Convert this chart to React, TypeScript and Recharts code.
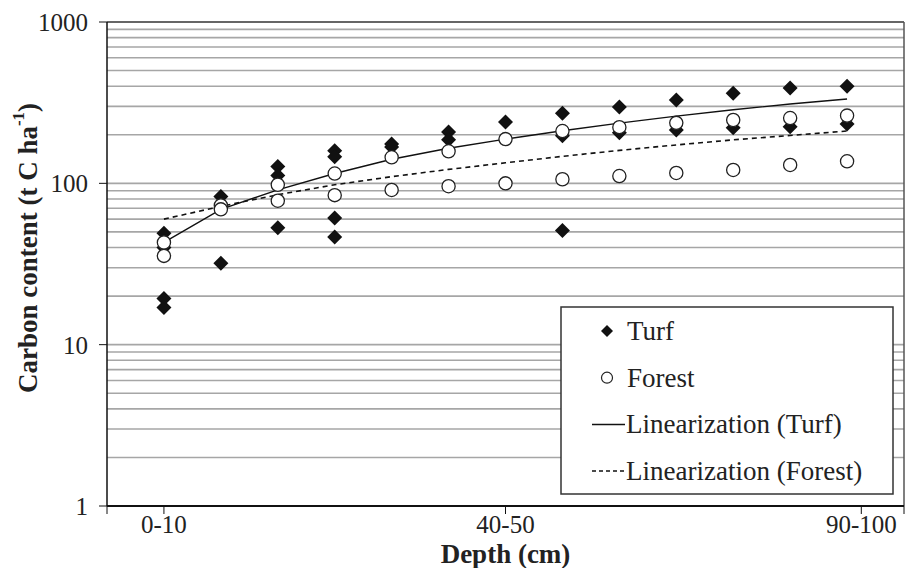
import React from 'react'
import { ComposedChart, Scatter, Line, XAxis, YAxis, ReferenceLine } from 'recharts'

const FONT = "'Times New Roman', Times, 'Liberation Serif', 'DejaVu Serif', serif"

// 13 depth slices, drawn at positions 1..13 on a 0..14 axis
const positions = [1, 2, 3, 4, 5, 6, 7, 8, 9, 10, 11, 12, 13]
const xTicks = [0, 1, 7, 13.25, 14]
const xTickLabels: Record<number, string> = { 1: '0-10', 7: '40-50', 13.25: '90-100' }
const yTicks = [1, 10, 100, 1000]
const gridValues = [
  2, 3, 4, 5, 6, 7, 8, 9, 10,
  20, 30, 40, 50, 60, 70, 80, 90, 100,
  200, 300, 400, 500, 600, 700, 800, 900,
]

// measured carbon content per slice (t C / ha)
const turfValues = [
  [49, 40, 19.3, 17],
  [83, 32],
  [127, 112, 53],
  [159, 146, 61, 46.5],
  [175, 168],
  [208, 186],
  [240],
  [272, 197, 51],
  [297, 206],
  [328, 214],
  [362, 221],
  [390, 224],
  [400, 233],
]
const forestValues = [
  [43, 35.5],
  [73, 69],
  [98, 78],
  [115, 84.5],
  [145, 91],
  [158, 96],
  [188, 100],
  [211, 106],
  [223, 111],
  [237, 116],
  [247, 121],
  [254, 130],
  [263, 137],
]
const turfFit = [43, 69, 91, 115, 141, 165, 188, 212, 236, 261, 286, 310, 333]
const forestFit = [60, 72, 85, 98, 110, 122, 134, 147, 160, 173, 186, 198, 211]

const turfPoints = turfValues.flatMap((vals, i) => vals.map((v) => ({ x: positions[i], y: v })))
const forestPoints = forestValues.flatMap((vals, i) => vals.map((v) => ({ x: positions[i], y: v })))
const fitRows = positions.map((x, i) => ({ x, turfFit: turfFit[i], forestFit: forestFit[i] }))

const Diamond = (props: any) => {
  const { cx, cy } = props
  const r = 7.5
  return <polygon points={`${cx},${cy - r} ${cx + r},${cy} ${cx},${cy + r} ${cx - r},${cy}`} fill="#111" />
}

const Ring = (props: any) => {
  const { cx, cy } = props
  return <circle cx={cx} cy={cy} r={6.6} fill="#fff" stroke="#222" strokeWidth={1.3} />
}

const YTitle = () => (
  <text
    x={28}
    y={248}
    transform="rotate(-90 28 248)"
    textAnchor="middle"
    dominantBaseline="central"
    style={{ fontFamily: FONT, fontWeight: 'bold', fontSize: 27 }}
    fill="#222"
  >
    Carbon content (t C ha<tspan dy={-10} style={{ fontSize: 17 }}>-1</tspan>
    <tspan dy={10}>)</tspan>
  </text>
)

function LegendBox() {
  const rows = [
    { label: 'Turf', kind: 'diamond' },
    { label: 'Forest', kind: 'circle' },
    { label: 'Linearization (Turf)', kind: 'solid' },
    { label: 'Linearization (Forest)', kind: 'dashed' },
  ]
  return (
    <svg width={334} height={189} style={{ position: 'absolute', left: 560, top: 306 }}>
      <rect x={1} y={1} width={332} height={187} fill="#fff" stroke="#333" strokeWidth={1.5} />
      {rows.map((r, i) => {
        const cy = 25 + i * 46.7
        return (
          <g key={r.label}>
            {r.kind === 'diamond' && (
              <polygon points={`47,${cy - 6} 53,${cy} 47,${cy + 6} 41,${cy}`} fill="#111" />
            )}
            {r.kind === 'circle' && <circle cx={47} cy={cy} r={5.5} fill="#fff" stroke="#222" strokeWidth={1.2} />}
            {r.kind === 'solid' && <line x1={32} x2={65} y1={cy} y2={cy} stroke="#111" strokeWidth={1.5} />}
            {r.kind === 'dashed' && (
              <line x1={32} x2={65} y1={cy} y2={cy} stroke="#111" strokeWidth={1.5} strokeDasharray="4 3" />
            )}
            <text
              x={r.kind === 'solid' || r.kind === 'dashed' ? 66 : 67}
              y={cy}
              dominantBaseline="central"
              style={{ fontFamily: FONT, fontSize: 27 }}
              fill="#222"
            >
              {r.label}
            </text>
          </g>
        )
      })}
    </svg>
  )
}

export default function App() {
  return (
    <div style={{ position: 'absolute', left: 0, top: 0, width: 912, height: 568, background: '#fff', fontFamily: FONT }}>
      <ComposedChart width={912} height={568} data={fitRows} margin={{ top: 22, right: 8, bottom: 0, left: 0 }}>
        <XAxis
          dataKey="x"
          type="number"
          domain={[0, 14]}
          ticks={xTicks}
          interval={0}
          tickFormatter={(v: number) => xTickLabels[v] ?? ''}
          height={62}
          tickSize={8}
          tickMargin={1}
          axisLine={{ stroke: '#111', strokeWidth: 2 }}
          tickLine={{ stroke: '#111' }}
          tick={{ fontSize: 25, fill: '#222', style: { fontFamily: FONT } }}
          label={{
            value: 'Depth (cm)',
            position: 'insideBottom',
            offset: 5,
            style: { fontFamily: FONT, fontWeight: 'bold', fontSize: 27, fill: '#222' },
          }}
        />
        <YAxis
          type="number"
          scale="log"
          domain={[1, 1000]}
          ticks={yTicks}
          interval={0}
          allowDataOverflow
          width={107}
          tickSize={8}
          tickMargin={11}
          axisLine={{ stroke: '#111', strokeWidth: 1.5 }}
          tickLine={{ stroke: '#111' }}
          tick={{ fontSize: 25, fill: '#222', style: { fontFamily: FONT } }}
          label={{ content: YTitle }}
        />
        {gridValues.map((v) => (
          <ReferenceLine key={v} y={v} stroke="#a6a6a6" strokeWidth={1.6} />
        ))}
        <ReferenceLine y={1000} stroke="#333" strokeWidth={1.5} />
        <ReferenceLine x={14} stroke="#555" strokeWidth={1.5} />
        <Scatter data={turfPoints} dataKey="y" shape={Diamond} isAnimationActive={false} />
        <Scatter data={forestPoints} dataKey="y" shape={Ring} isAnimationActive={false} />
        <Line dataKey="turfFit" type="linear" stroke="#111" strokeWidth={1.4} dot={false} isAnimationActive={false} />
        <Line
          dataKey="forestFit"
          type="linear"
          stroke="#111"
          strokeWidth={1.6}
          strokeDasharray="5 4"
          dot={false}
          isAnimationActive={false}
        />
      </ComposedChart>
      <LegendBox />
    </div>
  )
}
